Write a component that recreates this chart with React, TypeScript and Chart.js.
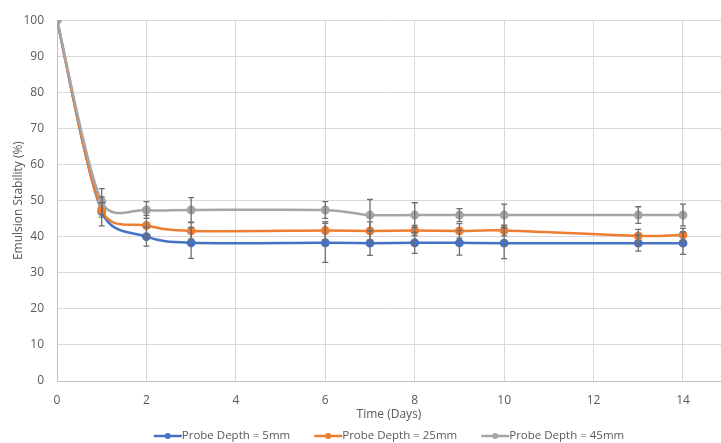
import React, { useEffect, useRef } from "react";
import { Chart, registerables } from "chart.js";

Chart.register(...registerables);

const FONT = "'Open Sans', 'Liberation Sans', sans-serif";
const TEXT = "#595959";

// ---- data ----
const days = [0, 1, 2, 3, 6, 7, 8, 9, 10, 13, 14];
const seriesNames = ["Probe Depth = 5mm", "Probe Depth = 25mm", "Probe Depth = 45mm"];
const seriesColors = ["#4472C4", "#ED7D31", "#A5A5A5"];

const depth5 = [100, 47.0, 40.0, 38.3, 38.3, 38.2, 38.3, 38.3, 38.2, 38.2, 38.2];
const depth5Err = [0, 4.0, 2.6, 4.3, 5.4, 3.4, 2.9, 3.4, 4.3, 2.2, 3.1];

const depth25 = [100, 47.4, 43.1, 41.6, 41.7, 41.6, 41.7, 41.6, 41.7, 40.2, 40.5];
const depth25Err = [0, 2.0, 2.8, 2.3, 2.5, 2.5, 1.4, 2.0, 1.5, 1.8, 1.8];

const depth45 = [100, 49.7, 47.4, 47.4, 47.4, 46.0, 46.0, 46.0, 46.0, 46.0, 46.0];
const depth45Err = [0, 3.6, 2.3, 3.4, 2.3, 4.3, 3.4, 1.8, 3.0, 2.3, 3.0];

const xTicks = [0, 2, 4, 6, 8, 10, 12, 14];
const yTicks = [0, 10, 20, 30, 40, 50, 60, 70, 80, 90, 100];

const xTitle = "Time (Days)";
const yTitle = "Emulsion Stability (%)";

const seriesValues = [depth5, depth25, depth45];
const seriesErrors = [depth5Err, depth25Err, depth45Err];

// Excel-style smoothing of the line element's control points (computed from the laid-out points)
const excelSmoothPlugin = {
  id: "excelSmooth",
  beforeDatasetDraw(chart: any, args: any) {
    const meta = args.meta;
    const line = meta.dataset;
    if (!line || typeof line.updateControlPoints !== "function") return;
    line.updateControlPoints(chart.chartArea, "x");
    const pts = meta.data;
    const n = pts.length;
    const T = 1 / 6;
    const dist = (a: any, b: any) => Math.hypot(b.x - a.x, b.y - a.y);
    for (let i = 0; i < n - 1; i++) {
      const p0 = pts[Math.max(i - 1, 0)];
      const p1 = pts[i];
      const p2 = pts[i + 1];
      const p3 = pts[Math.min(i + 2, n - 1)];
      const d12 = dist(p1, p2);
      const d02 = dist(p0, p2);
      const d13 = dist(p1, p3);
      let f0 = T;
      let f3 = T;
      if (d02 * T > d12 / 2 && d02 > 0) f0 = d12 / (2 * d02);
      if (d13 * T > d12 / 2 && d13 > 0) f3 = d12 / (2 * d13);
      p1.cp2x = p1.x + (p2.x - p0.x) * f0;
      p1.cp2y = p1.y + (p2.y - p0.y) * f0;
      p2.cp1x = p2.x - (p3.x - p1.x) * f3;
      p2.cp1y = p2.y - (p3.y - p1.y) * f3;
    }
    line._path = undefined;
  },
};

const errorBarPlugin = {
  id: "errorBars",
  afterDatasetsDraw(chart: any) {
    const { ctx, scales } = chart;
    const x = scales.x;
    const y = scales.y;
    ctx.save();
    ctx.strokeStyle = "#6E6E6E";
    ctx.lineWidth = 1.3;
    chart.data.datasets.forEach((ds: any) => {
      const errs: number[] = ds.errors;
      ds.data.forEach((pt: any, i: number) => {
        const e = errs[i];
        if (!e) return;
        const px = x.getPixelForValue(pt.x);
        const top = y.getPixelForValue(pt.y + e);
        const bot = y.getPixelForValue(pt.y - e);
        ctx.beginPath();
        ctx.moveTo(px, top);
        ctx.lineTo(px, bot);
        ctx.moveTo(px - 3, top);
        ctx.lineTo(px + 3, top);
        ctx.moveTo(px - 3, bot);
        ctx.lineTo(px + 3, bot);
        ctx.stroke();
      });
    });
    ctx.restore();
  },
};

const legendPlugin = {
  id: "bottomLegend",
  afterDraw(chart: any) {
    const { ctx, chartArea } = chart;
    ctx.save();
    ctx.font = `11.5px ${FONT}`;
    const lineW = 28;
    const gap = 24;
    const widths = seriesNames.map((n) => ctx.measureText(n).width);
    const total = widths.reduce((a, b) => a + b + lineW, 0) + gap * (seriesNames.length - 1);
    let cx = (chartArea.left + chartArea.right) / 2 - total / 2;
    const cy = 436;
    seriesNames.forEach((name, i) => {
      ctx.strokeStyle = seriesColors[i];
      ctx.lineWidth = 2.5;
      ctx.beginPath();
      ctx.moveTo(cx, cy);
      ctx.lineTo(cx + lineW, cy);
      ctx.stroke();
      ctx.fillStyle = seriesColors[i];
      ctx.beginPath();
      ctx.arc(cx + lineW / 2, cy, 3, 0, Math.PI * 2);
      ctx.fill();
      ctx.fillStyle = TEXT;
      ctx.textAlign = "left";
      ctx.textBaseline = "middle";
      ctx.fillText(name, cx + lineW, cy);
      cx += lineW + widths[i] + gap;
    });
    ctx.restore();
  },
};

export default function App() {
  const canvasRef = useRef<HTMLCanvasElement | null>(null);

  useEffect(() => {
    document.body.style.margin = "0";
    const canvas = canvasRef.current;
    if (!canvas) return;
    const datasets = seriesNames.map((name, si) => ({
      label: name,
      data: days.map((d, i) => ({ x: d, y: seriesValues[si][i] })),
      errors: seriesErrors[si],
      borderColor: seriesColors[si],
      backgroundColor: seriesColors[si],
      pointBackgroundColor: seriesColors[si],
      pointBorderColor: seriesColors[si],
      pointRadius: 3.2,
      borderWidth: 2.5,
      tension: 0.4,
      order: 3 - si,
    }));
    const chart = new Chart(canvas, {
      type: "line",
      data: { datasets: datasets as any },
      options: {
        animation: false,
        responsive: false,
        layout: { autoPadding: false, padding: { top: 20, right: 0, bottom: 21, left: 0 } },
        plugins: {
          legend: { display: false },
          tooltip: { enabled: false },
        },
        scales: {
          x: {
            type: "linear",
            min: 0,
            max: 14.85,
            afterBuildTicks: (scale: any) => {
              scale.ticks = xTicks.map((v) => ({ value: v }));
            },
            afterFit: (scale: any) => {
              scale.height = 41;
              scale.paddingRight = 0;
            },
            grid: { color: "#D9D9D9", lineWidth: 1, drawTicks: false },
            border: { color: "#BFBFBF", width: 1 },
            ticks: { color: TEXT, font: { family: FONT, size: 12 }, padding: 12, maxRotation: 0 },
            title: {
              display: true,
              text: xTitle,
              color: TEXT,
              font: { family: FONT, size: 12 },
              padding: { top: 0, bottom: 0 },
            },
          },
          y: {
            type: "linear",
            min: 0,
            max: 100,
            afterBuildTicks: (scale: any) => {
              scale.ticks = yTicks.map((v) => ({ value: v }));
            },
            afterFit: (scale: any) => {
              scale.width = 57;
            },
            grid: { color: "#D9D9D9", lineWidth: 1, drawTicks: false },
            border: { color: "#BFBFBF", width: 1 },
            ticks: { color: TEXT, font: { family: FONT, size: 12 }, padding: 13 },
            title: {
              display: true,
              text: yTitle,
              color: TEXT,
              font: { family: FONT, size: 12 },
              padding: { top: 11, bottom: 0 },
            },
          },
        },
      },
      plugins: [excelSmoothPlugin, errorBarPlugin, legendPlugin],
    } as any);
    return () => chart.destroy();
  }, []);

  return (
    <div style={{ width: 721, height: 443 }}>
      <canvas ref={canvasRef} width={721} height={443} style={{ display: "block" }} />
    </div>
  );
}
